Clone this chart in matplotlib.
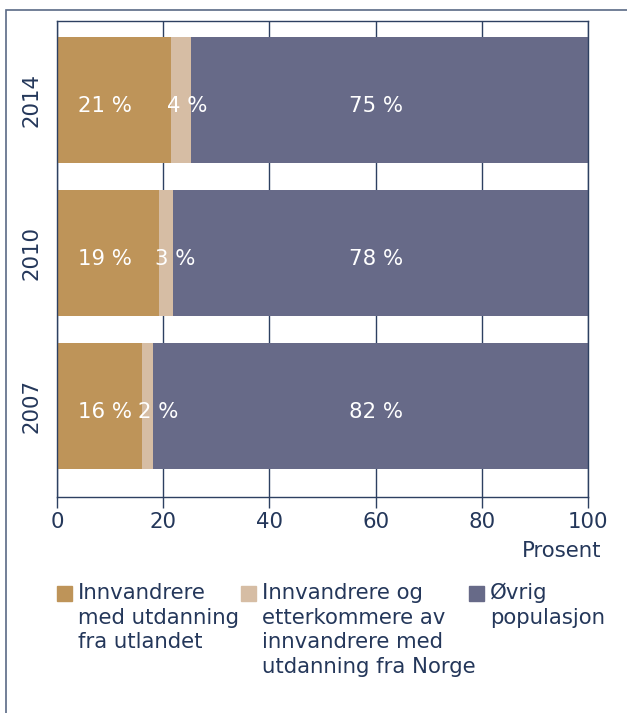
import matplotlib.pyplot as plt
from matplotlib.patches import Rectangle

years = ["2007", "2010", "2014"]
utland = [16.0, 19.2, 21.5]
norge = [2.1, 2.6, 3.7]
ovrig = [81.9, 78.2, 74.8]
labels_utland = ["16 %", "19 %", "21 %"]
labels_norge = ["2 %", "3 %", "4 %"]
labels_ovrig = ["82 %", "78 %", "75 %"]
legend_labels = [
    "Innvandrere\nmed utdanning\nfra utlandet",
    "Innvandrere og\netterkommere av\ninnvandrere med\nutdanning fra Norge",
    "Øvrig\npopulasjon",
]
colors = ["#BE9459", "#D6BDA4", "#676A88"]
TEXT = "#24375A"
LINE = "#2D4061"
FS = 15.3

plt.rcParams["font.family"] = "DejaVu Sans"

fig = plt.figure(figsize=(6.27, 7.13), dpi=100)
ax = fig.add_axes([57 / 627, 1 - 497 / 713, (588 - 57) / 627, 476 / 713])

y = list(range(len(years)))
left2 = [a for a in utland]
left3 = [a + b for a, b in zip(utland, norge)]
ax.barh(y, utland, height=0.82, color=colors[0], zorder=2)
ax.barh(y, norge, left=left2, height=0.82, color=colors[1], zorder=2)
ax.barh(y, ovrig, left=left3, height=0.82, color=colors[2], zorder=2)

for i in y:
    ax.text(3.9, i - 0.04, labels_utland[i], color="white", fontsize=FS,
            ha="left", va="center", zorder=3)
    ax.text(left2[i] - 0.8, i - 0.04, labels_norge[i], color="white",
            fontsize=FS, ha="left", va="center", zorder=3)
    ax.text(60.1, i - 0.04, labels_ovrig[i], color="white", fontsize=FS,
            ha="center", va="center", zorder=3)

ax.set_xlim(0, 100)
ax.set_ylim(-0.595, 2.516)
ax.set_xticks([0, 20, 40, 60, 80, 100])
ax.set_yticks(y)
ax.set_yticklabels(years, rotation=90, va="center")
ax.tick_params(axis="y", length=0, pad=11, labelsize=FS, labelcolor=TEXT)
ax.tick_params(axis="x", length=8, width=1, color=LINE, pad=3, labelsize=FS,
               labelcolor=TEXT)
ax.grid(axis="x", color=LINE, linewidth=1, zorder=0)
ax.set_axisbelow(True)
for s in ax.spines.values():
    s.set_color(LINE)
    s.set_linewidth(1)

fig.text(601 / 627, 1 - 551 / 713, "Prosent", ha="right", va="center",
         fontsize=FS, color=TEXT)

# legend drawn by hand so the squares line up with the first text line
leg_x = [57, 241, 469]
for x0, lab, c in zip(leg_x, legend_labels, colors):
    fig.patches.append(Rectangle((x0 / 627, 1 - 601 / 713), 15 / 627, 15 / 713,
                                 transform=fig.transFigure, color=c))
    fig.text((x0 + 21) / 627, 1 - 583 / 713, lab, ha="left", va="top",
             fontsize=FS, color=TEXT, linespacing=1.29)

# outer frame
fig.patches.append(Rectangle((6 / 627, -0.05), 2, 1 - 10 / 713 + 0.05,
                             transform=fig.transFigure, fill=False,
                             edgecolor="#5A6A85", linewidth=1.2))

fig.savefig("out.png", dpi=100)
